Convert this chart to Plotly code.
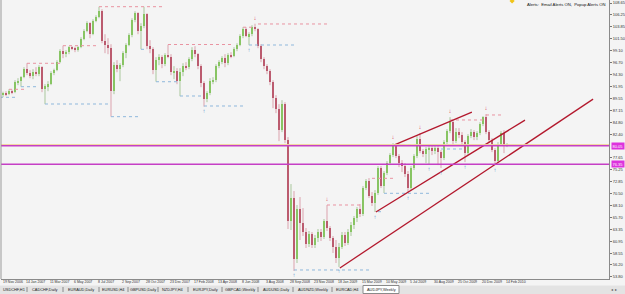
import plotly.graph_objects as go

# ---------------- DATA (AUDJPY, Weekly) ----------------
opens = [90.4,90.6,90.4,91.0,90.8,92.8,93.0,93.8,95.4,94.6,94.0,94.8,94.4,95.8,91.4,92.0,92.4,94.6,95.2,96.8,
         99.0,98.4,98.8,99.8,99.6,99.2,99.8,101.4,103.0,104.6,102.4,105.0,105.8,107.0,101.0,100.2,99.6,91.0,96.2,95.4,
         96.2,98.6,100.2,102.2,105.2,106.6,103.0,104.0,106.4,100.0,99.4,95.2,97.2,97.8,96.4,98.2,97.8,94.8,95.0,93.0,
         94.8,96.0,95.8,97.4,99.2,98.4,96.0,92.6,89.4,90.6,93.0,93.2,96.0,96.8,97.6,96.6,98.2,98.0,99.4,100.2,
         102.0,103.4,102.0,102.4,103.8,103.4,100.0,97.4,96.0,95.0,92.8,89.6,87.4,83.2,88.4,81.2,65.0,69.6,57.4,67.4,
         64.6,62.8,60.4,62.4,60.2,61.6,62.8,61.8,65.0,63.6,61.6,59.8,57.6,59.8,62.2,60.6,62.8,64.2,65.6,67.4,
         66.4,71.6,73.0,70.0,68.6,70.6,75.6,72.0,74.6,76.6,78.2,80.0,78.0,76.6,76.0,74.4,71.6,75.6,78.0,81.4,
         79.0,78.4,79.4,79.6,79.0,79.6,78.8,77.6,80.8,83.0,84.8,81.0,82.8,82.2,80.8,78.6,82.0,82.8,81.8,82.6,
         84.4,85.8,82.8,81.2,79.2,77.0,80.4,82.6,80.1]
highs = [90.9,91.0,91.4,91.3,93.2,93.6,94.0,95.8,96.6,95.2,95.4,95.8,96.2,96.0,92.4,93.0,95.0,95.5,97.2,99.4,
         100.1,99.2,100.0,100.0,99.9,100.0,101.8,103.4,105.0,104.8,105.4,106.2,107.9,107.4,102.4,101.6,100.4,96.8,97.2,96.6,
         99.0,100.6,102.6,105.6,107.0,106.8,104.6,107.9,106.6,101.2,99.8,97.8,98.4,98.2,98.6,100.3,98.4,96.0,95.6,95.6,
         96.6,96.8,97.8,99.8,100.0,98.6,96.4,93.0,91.0,93.6,93.8,96.4,97.2,98.0,98.4,98.6,98.8,99.8,100.6,102.4,
         103.8,103.8,102.8,104.2,104.5,103.6,100.4,97.8,96.4,95.4,93.2,90.2,88.4,89.2,88.8,81.8,72.4,71.0,68.2,69.8,
         67.6,63.6,63.0,62.8,62.2,63.4,63.4,65.4,68.2,64.0,62.0,61.2,60.6,62.8,62.8,63.4,64.8,66.0,67.8,68.4,
         72.0,73.4,73.6,70.8,71.2,76.0,76.0,75.0,77.0,78.6,80.6,80.2,78.4,77.2,76.6,75.0,76.0,78.4,82.0,82.6,
         79.4,79.8,80.0,80.0,80.2,80.0,79.2,81.2,83.4,85.8,85.2,83.6,83.6,82.8,81.2,82.4,83.4,83.2,83.0,84.8,
         86.0,86.4,83.2,81.6,79.6,80.8,83.0,83.2,80.6]
lows = [89.8,90.0,90.2,90.4,90.6,92.2,91.9,93.6,94.2,93.6,93.4,94.0,94.0,90.8,88.4,91.0,92.2,94.2,95.0,96.6,
        97.6,97.8,98.4,99.2,98.8,98.9,99.6,101.2,102.8,101.6,102.2,104.8,105.6,100.6,98.6,98.4,85.9,90.4,94.8,93.0,
        95.8,97.6,100.0,101.8,104.8,102.4,99.4,103.6,99.4,98.6,94.4,92.9,96.2,95.6,96.0,97.6,94.2,93.4,92.4,90.0,
        94.0,95.2,95.4,97.0,97.8,95.4,91.8,87.9,88.8,90.2,92.4,92.8,95.6,96.4,95.8,96.2,97.6,97.8,99.0,100.0,
        101.6,101.8,100.2,102.0,103.0,99.6,96.8,95.4,94.4,92.2,87.6,86.6,81.0,82.8,80.6,63.4,63.2,55.0,56.6,61.2,
        62.0,59.6,59.8,59.6,59.6,60.8,61.0,61.4,63.0,61.0,58.6,56.6,55.8,59.4,60.0,60.2,62.0,63.4,64.8,65.8,
        66.0,71.2,69.6,68.0,66.8,70.2,71.6,70.6,74.2,76.2,77.8,77.6,75.8,74.8,73.8,70.6,71.2,75.2,77.6,78.6,
        77.8,76.6,76.4,78.2,78.4,76.2,75.6,77.2,80.4,82.6,80.2,80.6,81.6,80.2,76.8,78.2,81.6,81.2,81.2,82.2,
        84.0,82.4,80.6,78.8,76.2,76.6,80.2,78.6,79.8]
closes = [90.6,90.4,91.0,90.8,92.8,93.0,93.8,95.4,94.6,94.0,94.8,94.4,95.8,91.4,92.0,92.4,94.6,95.2,96.8,99.0,
          98.4,98.8,99.8,99.6,99.2,99.8,101.4,103.0,104.6,102.4,105.0,105.8,107.0,101.0,100.2,99.6,91.0,96.2,95.4,96.2,
          98.6,100.2,102.2,105.2,106.6,103.0,104.0,106.4,100.0,99.4,95.2,97.2,97.8,96.4,98.2,97.8,94.8,95.0,93.0,94.8,
          96.0,95.8,97.4,99.2,98.4,96.0,92.6,89.4,90.6,93.0,93.2,96.0,96.8,97.6,96.6,98.2,98.0,99.4,100.2,102.0,
          103.4,102.0,102.4,103.8,103.4,100.0,97.4,96.0,95.0,92.8,89.6,87.4,83.2,88.4,81.2,65.0,69.6,57.4,67.4,64.6,
          62.8,60.4,62.4,60.2,61.6,62.8,61.8,65.0,63.6,61.6,59.8,57.6,59.8,62.2,60.6,62.8,64.2,65.6,67.4,66.4,
          71.6,73.0,70.0,68.6,70.6,75.6,72.0,74.6,76.6,78.2,80.0,78.0,76.6,76.0,74.4,71.6,75.6,78.0,81.4,79.0,
          78.4,79.4,79.6,79.0,79.6,78.8,77.6,80.8,83.0,84.8,81.0,82.8,82.2,80.8,78.6,82.0,82.8,81.8,82.6,84.4,
          85.8,82.8,81.2,79.2,77.0,80.4,82.6,80.1,80.3]

# price-axis labels
price_ticks = [108.65,106.25,103.85,101.50,99.10,96.70,94.30,91.95,89.55,87.15,84.80,82.40,
               77.65,75.25,72.85,70.50,68.10,65.70,63.35,60.95,58.55,56.20,53.80]
# date labels (every 8 weeks)
date_labels = ["19 Nov 2006","14 Jan 2007","11 Mar 2007","6 May 2007","8 Jul 2007","2 Sep 2007",
               "28 Oct 2007","23 Dec 2007","17 Feb 2008","13 Apr 2008","8 Jun 2008","3 Aug 2008",
               "28 Sep 2008","23 Nov 2008","18 Jan 2009","15 Mar 2009","10 May 2009","5 Jul 2009",
               "30 Aug 2009","25 Oct 2009","20 Dec 2009","14 Feb 2010"]
first_label_bar = -1

# horizontal levels
hline_levels = [80.05, 76.35]
bid_level = 80.3

# trend lines: (bar0, price0, bar1, price1)
trend_b0 = [112.3, 124.3, 130.3]
trend_p0 = [55.6, 66.8, 80.2]
trend_b1 = [196.7, 174.0, 156.3]
trend_p1 = [89.4, 85.2, 86.8]

# fractal resistance / support dotted levels
res_start = [2, 8, 20, 32, 55, 80, 85, 108, 123, 131, 149, 161]
res_end   = [7, 19, 31, 54, 76, 84, 108, 119, 130, 139, 161, 166]
res_level = [91.37, 96.58, 100.10, 107.91, 100.34, 103.8, 104.45, 68.21, 73.55, 80.22, 85.23, 86.23]
sup_start = [-1, 6, 14, 36, 46, 51, 59, 67, 82, 97, 125, 127, 146, 154]
sup_end   = [5, 12, 35, 45, 48, 58, 66, 81, 97, 123, 127, 142, 154, 168]
sup_level = [89.77, 91.89, 88.43, 85.89, 99.38, 92.89, 90.03, 88.03, 100.24, 55.20, 66.87, 70.55, 79.42, 76.32]

# fractal arrows
up_fractal_bars = [84, 108, 130, 139, 149, 161]
down_fractal_bars = [67, 82, 97, 112, 124, 135, 142, 146, 154, 164]

# terminal tabs
tabs = ["USDCHF,H1","CADCHF,Daily","EURAUD,Daily","EURUSD,H4","GBPUSD,Daily","NZDJPY,H4",
        "EURJPY,Daily","GBPCAD,Weekly","AUDUSD,Daily","AUDNZD,Weekly","EURCAD,H4","AUDJPY,Weekly"]
tab_edges = [0, 27, 63, 99, 128, 158, 188, 222, 258, 293, 332, 363, 399]   # px layout

# ---------------- FIGURE ----------------
W, H = 625, 294
ML, MR, MT, MB = 1, 16, 0, 15
PW, PH = W - ML - MR, H - MT - MB
X_MIN, X_MAX = -0.667, 202
def px_x(p):  # pixel x -> paper
    return (p - ML) / PW
def px_y(p):  # pixel y -> paper
    return (H - MB - p) / PH

FONT = "Liberation Sans"
BULL, BEAR = "#66c22a", "#9b1430"
BULL_W, BEAR_W = "#a9c79c", "#dba2ad"

n = len(closes)
idx = list(range(n))
fig = go.Figure()

# wicks
for bull, col in ((True, BULL_W), (False, BEAR_W)):
    xs, ys = [], []
    for i in idx:
        if (closes[i] >= opens[i]) == bull:
            xs += [i, i, None]
            ys += [lows[i], highs[i], None]
    fig.add_trace(go.Scatter(x=xs, y=ys, mode="lines", line=dict(color=col, width=1),
                             hoverinfo="skip", showlegend=False))

# bodies
fig.add_trace(go.Bar(
    x=idx,
    base=[min(o, c) for o, c in zip(opens, closes)],
    y=[max(abs(c - o), 0.2) for o, c in zip(opens, closes)],
    marker=dict(color=[BULL if c >= o else BEAR for o, c in zip(opens, closes)], line=dict(width=0)),
    width=0.7, showlegend=False, hoverinfo="skip"))

# dotted levels
def dotted(starts, ends, levels, col):
    xs, ys = [], []
    for s, e, l in zip(starts, ends, levels):
        xs += [s, e, None]
        ys += [l, l, None]
    fig.add_trace(go.Scatter(x=xs, y=ys, mode="lines", line=dict(color=col, width=1, dash="dot"),
                             hoverinfo="skip", showlegend=False))
dotted(res_start, res_end, res_level, "#e993a1")
dotted(sup_start, sup_end, sup_level, "#8fb8dc")

# trend lines
for b0, p0, b1, p1 in zip(trend_b0, trend_p0, trend_b1, trend_p1):
    fig.add_trace(go.Scatter(x=[b0, b1], y=[p0, p1], mode="lines",
                             line=dict(color="#b3182d", width=1.3), hoverinfo="skip", showlegend=False))

# fractal arrows
fig.add_trace(go.Scatter(x=up_fractal_bars, y=[highs[i] + 1.1 for i in up_fractal_bars], mode="text",
                         text=["↓"] * len(up_fractal_bars), textfont=dict(color="#d9455a", size=6, family=FONT),
                         hoverinfo="skip", showlegend=False))
fig.add_trace(go.Scatter(x=down_fractal_bars, y=[lows[i] - 1.0 for i in down_fractal_bars], mode="text",
                         text=["↑"] * len(down_fractal_bars), textfont=dict(color="#5b95cf", size=6, family=FONT),
                         hoverinfo="skip", showlegend=False))
# yellow alert marker at top
fig.add_trace(go.Scatter(x=[169.7], y=[109.05], mode="markers",
                         marker=dict(symbol="diamond", size=4, color="#f0c419"),
                         hoverinfo="skip", showlegend=False))

shapes = []
# bid line + magenta levels
shapes.append(dict(type="line", xref="paper", x0=0, x1=1, yref="y", y0=bid_level, y1=bid_level,
                   line=dict(color="#f1d49a", width=1)))
for lv in hline_levels:
    shapes.append(dict(type="line", xref="paper", x0=0, x1=1, yref="y", y0=lv, y1=lv,
                       line=dict(color="#c53fc5", width=1.5)))
# left border
shapes.append(dict(type="line", xref="paper", x0=0, x1=0, yref="paper", y0=0, y1=1,
                   line=dict(color="#9a9a9a", width=1)))
# tab bar
shapes.append(dict(type="rect", xref="paper", yref="paper", x0=px_x(0), x1=px_x(625),
                   y0=px_y(294), y1=px_y(285.5), fillcolor="#e3e3e3", line=dict(width=0), layer="below"))
shapes.append(dict(type="rect", xref="paper", yref="paper", x0=px_x(tab_edges[-2]), x1=px_x(tab_edges[-1]),
                   y0=px_y(293.5), y1=px_y(285.5), fillcolor="#ffffff", line=dict(color="#8a8a8a", width=1)))
# tab separators
for k in range(1, len(tab_edges) - 2):
    shapes.append(dict(type="line", xref="paper", yref="paper", x0=px_x(tab_edges[k]), x1=px_x(tab_edges[k]),
                       y0=px_y(292), y1=px_y(287), line=dict(color="#8a8a8a", width=1)))

annotations = []
for k, name in enumerate(tabs):
    annotations.append(dict(text=name, xref="paper", yref="paper",
                            x=px_x((tab_edges[k] + tab_edges[k + 1]) / 2), y=px_y(289.7),
                            xanchor="center", yanchor="middle",
                            showarrow=False, font=dict(size=3.9, color="#222", family=FONT)))
annotations.append(dict(text="◂  ▸", xref="paper", yref="paper", x=px_x(619), y=px_y(289.7),
                        yanchor="middle", showarrow=False, font=dict(size=4, color="#555", family=FONT)))

# date labels (positioned in paper space from their bar index)
for k, lab in enumerate(date_labels):
    bar = first_label_bar + 8 * k
    xp = max((bar - X_MIN) / (X_MAX - X_MIN), 0.0)
    annotations.append(dict(text=lab, xref="paper", yref="paper", x=xp, y=px_y(282),
                            xanchor="left", yanchor="middle", showarrow=False,
                            font=dict(size=3.5, color="#333", family=FONT)))

# price boxes
for lv in hline_levels:
    annotations.append(dict(text=f"{lv:.2f}", xref="paper", yref="y", x=px_x(611), y=lv,
                            xanchor="left", yanchor="middle", showarrow=False, bgcolor="#dd33dd",
                            borderpad=0.5, font=dict(size=4, color="#ffffff", family=FONT)))

# alerts text
annotations.append(dict(text="Alerts:  Email Alerts ON,  Popup Alerts ON", xref="paper", yref="paper",
                        x=px_x(607), y=px_y(4), xanchor="right", yanchor="middle", showarrow=False,
                        font=dict(size=4.2, color="#111", family=FONT)))

fig.update_layout(
    width=W, height=H, margin=dict(l=ML, r=MR, t=MT, b=MB, pad=0),
    paper_bgcolor="#f4f4f4", plot_bgcolor="#f4f4f4",
    showlegend=False, bargap=0,
    shapes=shapes, annotations=annotations,
    xaxis=dict(range=[X_MIN, X_MAX], showgrid=False, zeroline=False, showticklabels=False,
               showline=True, linecolor="#8a8a8a", linewidth=1, ticks=""),
    yaxis=dict(range=[53.394, 109.25], side="right", showgrid=False, zeroline=False,
               tickvals=price_ticks, ticktext=[f"{v:.2f}" for v in price_ticks],
               tickfont=dict(size=4, color="#333", family=FONT),
               ticks="outside", ticklen=2, tickcolor="#777", showline=True, linecolor="#8a8a8a", linewidth=1),
)

fig.write_html("out.html")
